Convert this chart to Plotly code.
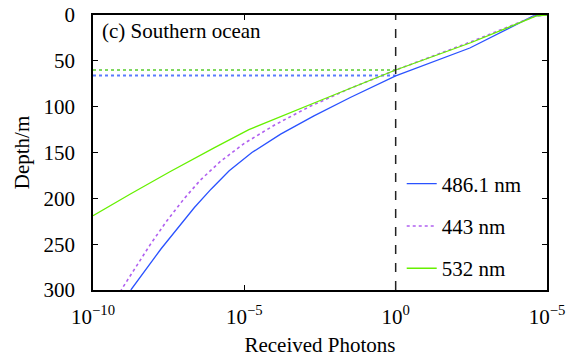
import plotly.graph_objects as go

# Depth (m) and log10(received photons)
depth_4861 = [0, 1, 36, 66.5, 90, 110, 130, 150, 170, 190, 210, 230, 255, 300]
logp_4861 = [5, 4.55, 2.45, 0, -1.5, -2.7, -3.8, -4.75, -5.5, -6.1, -6.65, -7.15, -7.75, -8.75]

depth_443 = [0, 1, 30, 60, 80, 100, 120, 140, 160, 180, 200, 225, 250, 300]
logp_443 = [5, 4.62, 2.43, 0, -1.5, -2.85, -4.0, -5.0, -5.8, -6.45, -6.98, -7.57, -8.1, -9.07]

depth_532 = [0, 1, 30, 60, 90, 110, 125, 145, 171, 195, 219]
logp_532 = [5, 4.65, 2.5, 0, -2.25, -3.75, -4.85, -6.0, -7.46, -8.75, -10]

# Reference markers
ref_photons = 1.0
ref_depth_532 = 60
ref_depth_4861 = 66
x_left = 1e-10

tick_vals = [1e-10, 1e-5, 1, 1e5]
tick_text = ["10<sup>−10</sup>", "10<sup>−5</sup>", "10<sup>0</sup>", "10<sup>−5</sup>"]

BLUE = "#2a52ff"
PURPLE = "#b060f0"
GREEN = "#66f000"
FONT = "serif"
TXT = dict(family=FONT, size=21, color="black")

fig = go.Figure()

fig.add_trace(go.Scatter(x=[x_left, ref_photons], y=[ref_depth_532, ref_depth_532], mode="lines",
                         line=dict(color="#7fd860", width=2, dash="dot"), showlegend=False, hoverinfo="skip"))
fig.add_trace(go.Scatter(x=[x_left, ref_photons], y=[ref_depth_4861, ref_depth_4861], mode="lines",
                         line=dict(color="#5a7cff", width=2, dash="dot"), showlegend=False, hoverinfo="skip"))

fig.add_vline(x=ref_photons, line=dict(color="#222222", width=1.5, dash="dash"))

fig.add_trace(go.Scatter(x=[10 ** v for v in logp_4861], y=depth_4861, mode="lines", name="486.1 nm",
                         legendgroup="a", line=dict(color=BLUE, width=1.3)))
fig.add_trace(go.Scatter(x=[10 ** v for v in logp_443], y=depth_443, mode="lines", name="443 nm",
                         legendgroup="b", line=dict(color=PURPLE, width=1.6, dash="dot")))
fig.add_trace(go.Scatter(x=[10 ** v for v in logp_532], y=depth_532, mode="lines", name="532 nm",
                         legendgroup="c", line=dict(color=GREEN, width=1.3)))

axis_common = dict(showline=True, linecolor="black", linewidth=1.5, mirror="ticks", ticks="inside",
                   ticklen=5, tickwidth=1.3, tickcolor="black", showgrid=False, zeroline=False,
                   automargin=False, tickfont=TXT)

fig.update_xaxes(type="log", range=[-10, 5], tickvals=tick_vals, ticktext=tick_text,
                 ticklabelstandoff=7,
                 title=dict(text="Received Photons", font=TXT, standoff=12),
                 **axis_common)
fig.update_yaxes(range=[300, 0], tickvals=[0, 50, 100, 150, 200, 250, 300],
                 ticklabelstandoff=12,
                 title=dict(text="Depth/m", font=TXT, standoff=8),
                 **axis_common)

fig.add_annotation(text="(c) Southern ocean", xref="paper", yref="paper", x=0.015, y=1.0, yshift=-2,
                   xanchor="left", yanchor="top", showarrow=False, font=TXT)

fig.update_layout(
    width=576, height=357,
    margin=dict(l=93, r=29, t=15, b=67),
    paper_bgcolor="white", plot_bgcolor="white",
    font=TXT,
    legend=dict(x=0.68, y=0.46, xanchor="left", yanchor="top", bgcolor="rgba(0,0,0,0)",
                font=TXT, tracegroupgap=12, traceorder="grouped", itemwidth=30),
)

fig.write_html("out.html")
